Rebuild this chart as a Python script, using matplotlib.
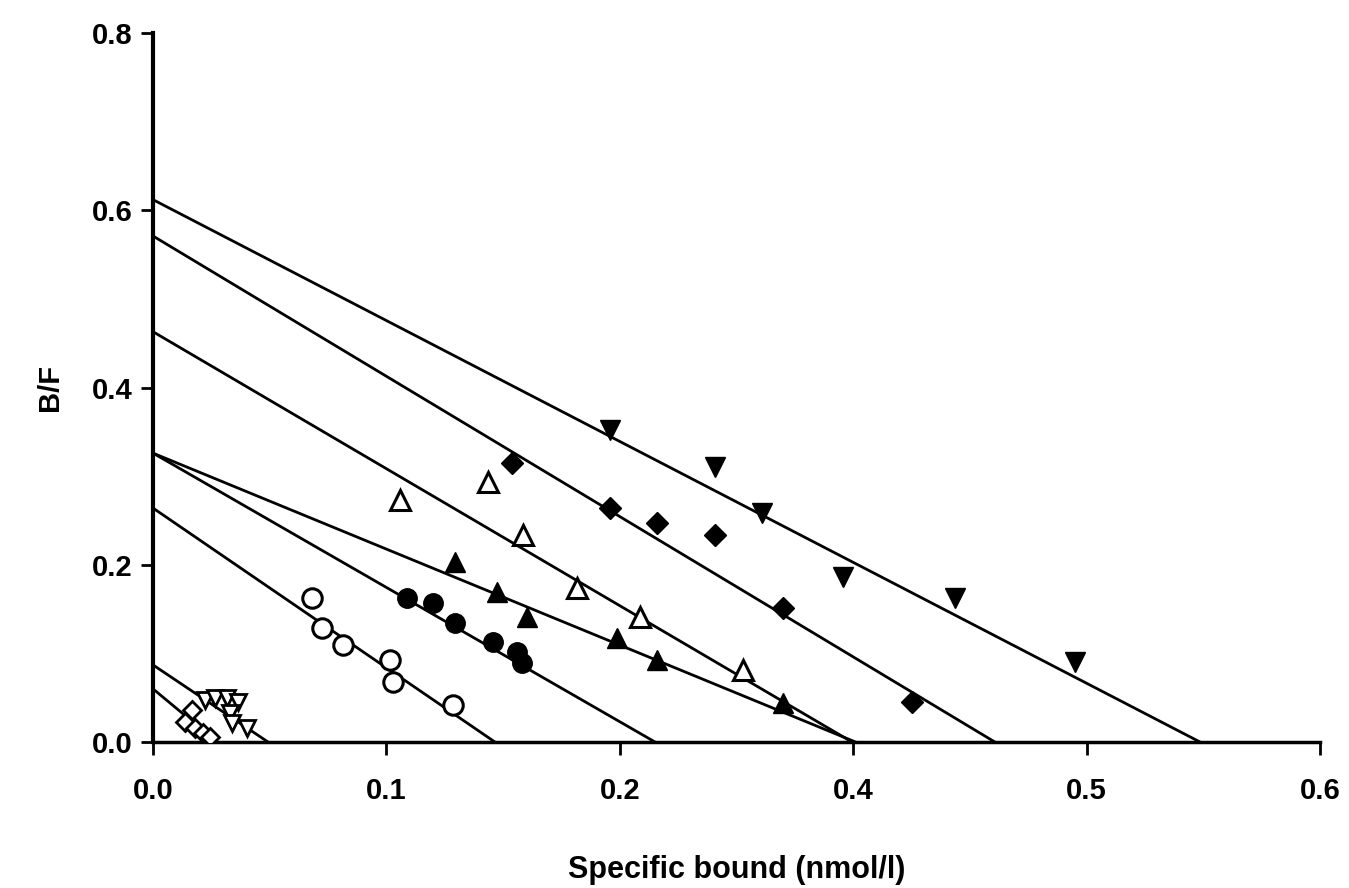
import numpy as np
import matplotlib
matplotlib.use("Agg")
import matplotlib.pyplot as plt

plt.rcParams['font.family'] = ['Liberation Sans', 'DejaVu Sans']

# Scatchard data (x = specific bound, y = B/F)
open_circ_x = [0.0681, 0.0724, 0.0814, 0.1015, 0.1028, 0.1285]
open_circ_y = [0.1625, 0.1287, 0.1095, 0.0926, 0.0677, 0.0418]

fill_circ_x = [0.1088, 0.1200, 0.1294, 0.1457, 0.1560, 0.1581]
fill_circ_y = [0.1625, 0.1569, 0.1343, 0.1129, 0.1016, 0.0892]

fill_tri_x = [0.1294, 0.1474, 0.1602, 0.1988, 0.2159, 0.2699]
fill_tri_y = [0.2032, 0.1693, 0.1411, 0.1174, 0.0926, 0.0440]

open_tri_x = [0.1058, 0.1435, 0.1585, 0.1817, 0.2087, 0.2528]
open_tri_y = [0.2731, 0.2935, 0.2336, 0.1738, 0.1411, 0.0813]

fill_dia_x = [0.1538, 0.1958, 0.2159, 0.2408, 0.2699, 0.3252]
fill_dia_y = [0.3148, 0.2641, 0.2472, 0.2336, 0.1512, 0.0451]

fill_dtri_x = [0.1958, 0.2408, 0.2609, 0.2956, 0.3436, 0.3950]
fill_dtri_y = [0.3521, 0.3104, 0.2585, 0.1862, 0.1625, 0.0903]

open_dia_x = [0.0167, 0.0137, 0.0180, 0.0214, 0.0244]
open_dia_y = [0.0360, 0.0226, 0.0158, 0.0102, 0.0056]

open_dtri_x = [0.0223, 0.0266, 0.0317, 0.0364, 0.0330, 0.0338, 0.0403]
open_dtri_y = [0.0474, 0.0497, 0.0497, 0.0451, 0.0327, 0.0214, 0.0158]

# fitted lines: y-intercept and x-intercept
line_y0 = [0.612, 0.571, 0.463, 0.326, 0.326, 0.264, 0.087, 0.060]
line_x0 = [0.4486, 0.3607, 0.2995, 0.3010, 0.2151, 0.1465, 0.0493, 0.0274]

# tick labels as printed in the original (the 0.3 position reads 0.4)
xtick_pos = [0.0, 0.1, 0.2, 0.3, 0.4, 0.5]
xtick_lab = ['0.0', '0.1', '0.2', '0.4', '0.5', '0.6']
ytick_pos = [0.0, 0.2, 0.4, 0.6, 0.8]
ytick_lab = ['0.0', '0.2', '0.4', '0.6', '0.8']

fig = plt.figure(figsize=(13.49, 8.88), dpi=100)
ax = fig.add_axes([0.1134, 0.1644, 0.8651, 0.7984])

for y0, x0 in zip(line_y0, line_x0):
    ax.plot([0, x0], [y0, 0], color='black', lw=2.0, zorder=2)

ms = 14
ax.plot(open_circ_x, open_circ_y, 'o', ms=ms, mfc='white', mec='black', mew=2.2, zorder=3)
ax.plot(fill_circ_x, fill_circ_y, 'o', ms=ms, mfc='black', mec='black', zorder=3)
ax.plot(fill_tri_x, fill_tri_y, '^', ms=ms, mfc='black', mec='black', zorder=3)
ax.plot(open_tri_x, open_tri_y, '^', ms=ms, mfc='white', mec='black', mew=2.2, zorder=3)
ax.plot(fill_dia_x, fill_dia_y, 'D', ms=11, mfc='black', mec='black', zorder=3)
ax.plot(fill_dtri_x, fill_dtri_y, 'v', ms=ms, mfc='black', mec='black', zorder=3)
ax.plot(open_dia_x, open_dia_y, 'D', ms=9, mfc='white', mec='black', mew=2.0, zorder=3)
ax.plot(open_dtri_x, open_dtri_y, 'v', ms=11, mfc='white', mec='black', mew=2.0, zorder=3)

ax.set_xlim(0, 0.5)
ax.set_ylim(0, 0.8)
ax.set_xticks(xtick_pos)
ax.set_xticklabels(xtick_lab)
ax.set_yticks(ytick_pos)
ax.set_yticklabels(ytick_lab)

for side in ['top', 'right']:
    ax.spines[side].set_visible(False)
ax.spines['left'].set_linewidth(3)
ax.spines['bottom'].set_linewidth(2.5)

ax.tick_params(axis='both', direction='out', length=9, width=2, labelsize=21, pad=6)
ax.tick_params(axis='x', pad=16)
for t in ax.get_xticklabels() + ax.get_yticklabels():
    t.set_fontweight('bold')

ax.set_xlabel('Specific bound (nmol/l)', fontsize=22, fontweight='bold', labelpad=36)
ax.set_ylabel('B/F', fontsize=21, fontweight='bold', labelpad=20)

fig.savefig('out.png', dpi=100)
